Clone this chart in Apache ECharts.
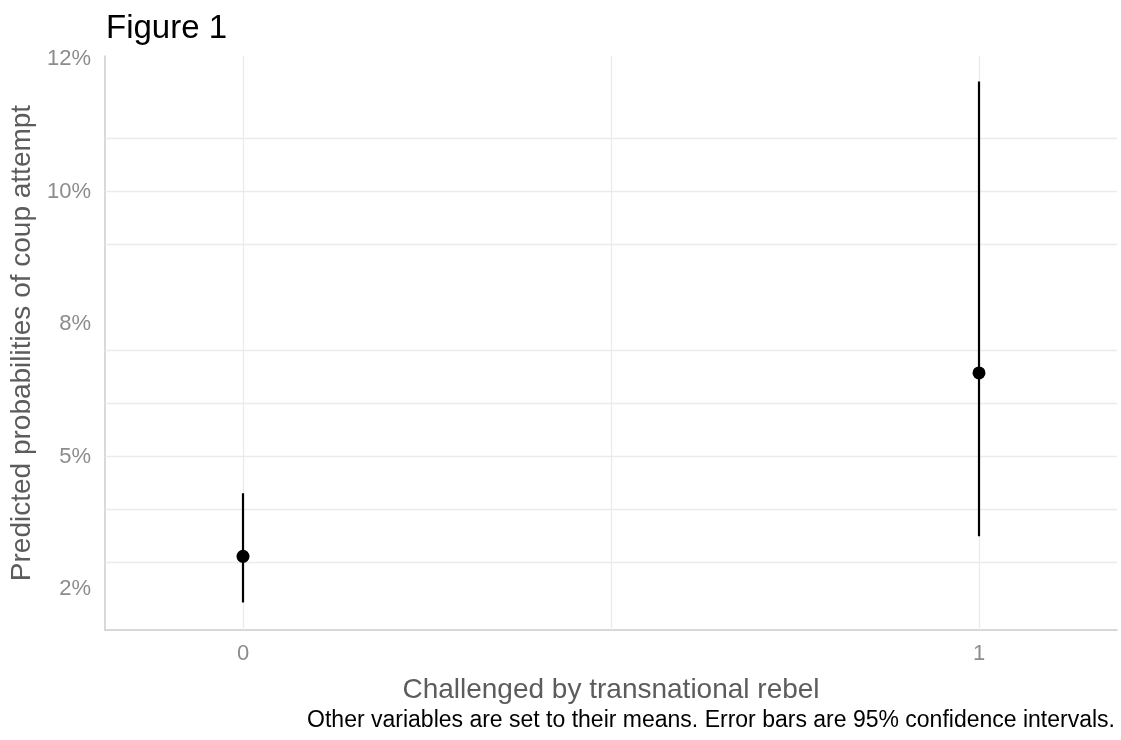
<!DOCTYPE html>
<html>
<head>
<meta charset="utf-8">
<script src="https://cdn.jsdelivr.net/npm/echarts@6/dist/echarts.min.js"></script>
<style>
  html, body { margin: 0; padding: 0; background: #fff; }
  #chart { width: 1121px; height: 740px; }
</style>
</head>
<body>
<div id="chart"></div>
<script>
// challenged by transnational rebel (0 = no, 1 = yes)
var categories = [0, 1];
// predicted probability and 95% CI
var estimates = [0.0312, 0.0658];
var lowerCI = [0.0225, 0.0350];
var upperCI = [0.0431, 0.1208];

// y tick positions and their printed labels
var yTickValues = [0.025, 0.05, 0.075, 0.1, 0.125];
var yTickLabels = ['2%', '5%', '8%', '10%', '12%'];
var yMinorValues = [0.0375, 0.0625, 0.0875, 0.1125];
var xTickValues = [0, 1];
var xGridValues = [0, 0.5, 1];

var chart = echarts.init(document.getElementById('chart'));

var gridLines = [];
yTickValues.concat(yMinorValues).forEach(function (v) { gridLines.push({ yAxis: v }); });
xGridValues.forEach(function (v) { gridLines.push({ xAxis: v }); });

var option = {
  animation: false,
  textStyle: { fontFamily: 'Liberation Sans, Arial, sans-serif' },
  title: [{
    text: 'Figure 1',
    left: 101,
    top: 7,
    textStyle: { fontSize: 33, fontWeight: 'normal', color: '#000' }
  }, {
    text: 'Other variables are set to their means. Error bars are 95% confidence intervals.',
    right: 1,
    bottom: 3,
    textStyle: { fontSize: 23, fontWeight: 'normal', color: '#000' }
  }],
  grid: { left: 105, right: 4, top: 56, bottom: 110, containLabel: false, outerBoundsMode: 'none' },
  xAxis: {
    type: 'value',
    min: -0.1875,
    max: 1.1875,
    name: 'Challenged by transnational rebel',
    nameLocation: 'middle',
    nameGap: 46,
    nameTextStyle: { fontSize: 28, color: '#5c5c5c' },
    axisLine: { show: true, onZero: false, lineStyle: { color: '#cccccc', width: 1.5 } },
    axisTick: { show: false },
    splitLine: { show: false },
    axisLabel: {
      customValues: xTickValues,
      fontSize: 22,
      color: '#8c8c8c',
      margin: 13
    }
  },
  yAxis: {
    type: 'value',
    min: 0.0173,
    max: 0.1256,
    name: 'Predicted probabilities of coup attempt',
    nameLocation: 'middle',
    nameRotate: 90,
    nameGap: 68,
    nameTextStyle: { fontSize: 28, color: '#5c5c5c' },
    axisLine: { show: true, onZero: false, lineStyle: { color: '#cccccc', width: 1.5 } },
    axisTick: { show: false },
    splitLine: { show: false },
    axisLabel: {
      customValues: yTickValues,
      fontSize: 22,
      color: '#8c8c8c',
      margin: 14,
      formatter: function (v) {
        for (var i = 0; i < yTickValues.length; i++) {
          if (Math.abs(yTickValues[i] - v) < 1e-9) return yTickLabels[i];
        }
        return '';
      }
    }
  },
  series: [{
    // background grid lines
    type: 'line',
    data: [],
    silent: true,
    z: 0,
    markLine: {
      silent: true,
      symbol: 'none',
      label: { show: false },
      lineStyle: { color: '#ebebeb', type: 'solid', width: 1.3 },
      data: gridLines
    }
  }, {
    // error bars
    type: 'custom',
    z: 10,
    data: categories.map(function (c, i) { return [c, lowerCI[i], upperCI[i]]; }),
    renderItem: function (params, api) {
      var p1 = api.coord([api.value(0), api.value(1)]);
      var p2 = api.coord([api.value(0), api.value(2)]);
      return {
        type: 'line',
        z2: 10,
        shape: { x1: p1[0], y1: p1[1], x2: p2[0], y2: p2[1] },
        style: { stroke: '#000', lineWidth: 2.2, fill: null }
      };
    }
  }, {
    type: 'scatter',
    z: 11,
    symbol: 'circle',
    symbolSize: 13,
    itemStyle: { color: '#000', opacity: 1 },
    data: categories.map(function (c, i) { return [c, estimates[i]]; })
  }]
};

chart.setOption(option);
</script>
</body>
</html>
